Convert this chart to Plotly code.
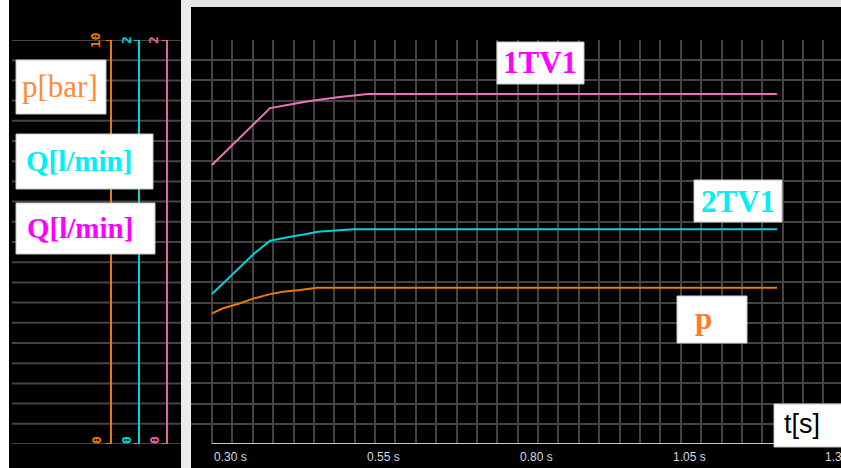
import plotly.graph_objects as go

# ---------------- data ----------------
t_p = [0.300, 0.318, 0.341, 0.370, 0.395, 0.416, 0.444, 0.472, 1.224]
p_bar = [3.235, 3.36, 3.46, 3.61, 3.71, 3.77, 3.81, 3.87, 3.87]

t_2tv1 = [0.300, 0.321, 0.370, 0.395, 0.408, 0.428, 0.452, 0.473, 0.531, 1.224]
q_2tv1 = [0.743, 0.803, 0.946, 1.006, 1.015, 1.026, 1.038, 1.051, 1.063, 1.063]

t_1tv1 = [0.300, 0.346, 0.375, 0.395, 0.423, 0.460, 0.509, 0.555, 1.224]
q_1tv1 = [1.381, 1.520, 1.604, 1.663, 1.678, 1.698, 1.718, 1.733, 1.733]

x_tick_vals = [0.30, 0.55, 0.80, 1.05, 1.30]
x_tick_text = ["0.30 s", "0.55 s", "0.80 s", "1.05 s", "1.30 s"]

p_range = [0, 10]
q_range = [0, 2]
left_top_labels = ["10", "2", "2"]
left_bottom_labels = ["0", "0", "0"]

# ---------------- layout helpers ----------------
W, H = 841, 468
def X(px):
    return px / W
def Y(py):
    return 1 - py / H

ORANGE = "#e87a00"
CYAN = "#00d4d8"
PINK = "#e064a8"
GRID = "#444444"

t_per_px = 1 / 611.4
x0_t = 0.30 - (212 - 191) * t_per_px
x1_t = 0.30 + (841 - 212) * t_per_px

fig = go.Figure()
fig.add_trace(go.Scatter(x=t_p, y=p_bar, mode="lines", line=dict(color=ORANGE, width=2),
                         yaxis="y", showlegend=False, hoverinfo="skip"))
fig.add_trace(go.Scatter(x=t_2tv1, y=q_2tv1, mode="lines", line=dict(color=CYAN, width=2),
                         yaxis="y2", showlegend=False, hoverinfo="skip"))
fig.add_trace(go.Scatter(x=t_1tv1, y=q_1tv1, mode="lines", line=dict(color="#f070b8", width=2),
                         yaxis="y3", showlegend=False, hoverinfo="skip"))

ydom = [Y(444), Y(40)]

shapes = []
# black panels
shapes.append(dict(type="rect", xref="paper", yref="paper", x0=X(9), x1=X(181), y0=0, y1=1,
                   fillcolor="black", line=dict(width=0), layer="below"))
shapes.append(dict(type="rect", xref="paper", yref="paper", x0=X(181), x1=X(191), y0=0, y1=1,
                   fillcolor="#ebebeb", line=dict(width=0), layer="below"))
shapes.append(dict(type="rect", xref="paper", yref="paper", x0=X(191), x1=1, y0=0, y1=Y(7),
                   fillcolor="black", line=dict(width=0), layer="below"))
shapes.append(dict(type="rect", xref="paper", yref="paper", x0=X(191), x1=1, y0=Y(7), y1=1,
                   fillcolor="#e4e4e4", line=dict(width=0), layer="below"))

# left panel grid lines
for i in range(21):
    v = p_range[0] + i * 0.5
    shapes.append(dict(type="line", xref="paper", yref="y", x0=X(12), x1=X(181), y0=v, y1=v,
                       line=dict(color=GRID, width=2), layer="above"))

# left axes (bracket style)
for xpx, col, ref, rng in [(111, ORANGE, "y", p_range), (139, CYAN, "y2", q_range), (167, PINK, "y3", q_range)]:
    shapes.append(dict(type="line", xref="paper", yref=ref, x0=X(xpx), x1=X(xpx), y0=rng[0], y1=rng[1],
                       line=dict(color=col, width=2), layer="above"))
    for v in rng:
        shapes.append(dict(type="line", xref="paper", yref=ref, x0=X(xpx - 5), x1=X(xpx), y0=v, y1=v,
                           line=dict(color=col, width=2), layer="above"))

# x axis line
shapes.append(dict(type="line", xref="x", yref="y", x0=x_tick_vals[0], x1=x1_t, y0=0, y1=0,
                   line=dict(color="#c8c8c8", width=2), layer="above"))

# white label boxes
boxes = [
    (16, 60, 106, 114),
    (16, 134, 153, 189),
    (16, 203, 155, 254),
    (497, 42, 584, 84),
    (694, 180, 782, 222),
    (677, 296, 747, 343),
    (774, 404, 845, 447),
]
for bx0, by0, bx1, by1 in boxes:
    shapes.append(dict(type="rect", xref="paper", yref="paper", x0=X(bx0), x1=X(bx1), y0=Y(by1), y1=Y(by0),
                       fillcolor="white", line=dict(color="#c8c8c8", width=1), layer="above"))

ann = []
SERIF = "Liberation Serif"
def txt(s, xpx, ypx, color, size, family=SERIF, bold=False, xanchor="center", angle=0):
    ann.append(dict(text=(f"<b>{s}</b>" if bold else s), x=X(xpx), y=Y(ypx), xref="paper", yref="paper",
                    xanchor=xanchor, yanchor="middle", showarrow=False, textangle=angle,
                    font=dict(color=color, size=size, family=family)))

txt("p[bar]", 60, 86, "#ff8a3a", 31)
txt("Q[l/min]", 79, 161, "#00f0f4", 29, bold=True)
txt("Q[l/min]", 80, 228, "#ff00ff", 29, bold=True)
txt("1TV1", 540, 63, "#ff00ff", 31, bold=True)
txt("2TV1", 738, 201, "#00f0f4", 31, bold=True)
txt("p", 693, 318, "#ff7a28", 31, bold=True, xanchor="left")
txt("t[s]", 802, 424, "black", 27, family="Liberation Sans Narrow, Liberation Sans, Arial, sans-serif")

# left axis numbers
for lab, xpx, col in zip(left_top_labels, [95, 126, 153], [ORANGE, CYAN, PINK]):
    txt(lab, xpx, 40, col, 13, family="DejaVu Sans Mono, monospace", bold=True, angle=-90)
for lab, xpx, col in zip(left_bottom_labels, [96, 126, 154], [ORANGE, CYAN, PINK]):
    txt(lab, xpx, 440, col, 13, family="DejaVu Sans Mono, monospace", bold=True, angle=-90)

# x tick labels (left aligned at tick position)
for v, s in zip(x_tick_vals, x_tick_text):
    ann.append(dict(text=s, x=v, y=Y(457), xref="x", yref="paper", xanchor="left", yanchor="middle",
                    showarrow=False, font=dict(color="#d4dae6", size=12,
                                               family="Liberation Sans, Arial, sans-serif")))

fig.update_layout(
    width=W, height=H,
    margin=dict(l=0, r=0, t=0, b=0),
    paper_bgcolor="white",
    plot_bgcolor="black",
    showlegend=False,
    xaxis=dict(domain=[X(191), 1], range=[x0_t, x1_t], tick0=0.30, dtick=1 / 30,
               showgrid=True, gridcolor=GRID, gridwidth=2, zeroline=False,
               showticklabels=False, ticks="", showline=False, fixedrange=True),
    yaxis=dict(domain=ydom, range=p_range, tick0=0, dtick=0.5, showgrid=True, gridcolor=GRID,
               gridwidth=2, zeroline=False, showticklabels=False, ticks="", showline=False),
    yaxis2=dict(domain=ydom, range=q_range, overlaying="y", visible=False),
    yaxis3=dict(domain=ydom, range=q_range, overlaying="y", visible=False),
    shapes=shapes,
    annotations=ann,
)

fig.write_html("out.html", config={"displayModeBar": False},
               post_script="document.body.style.margin='0';document.body.style.overflow='hidden';")
